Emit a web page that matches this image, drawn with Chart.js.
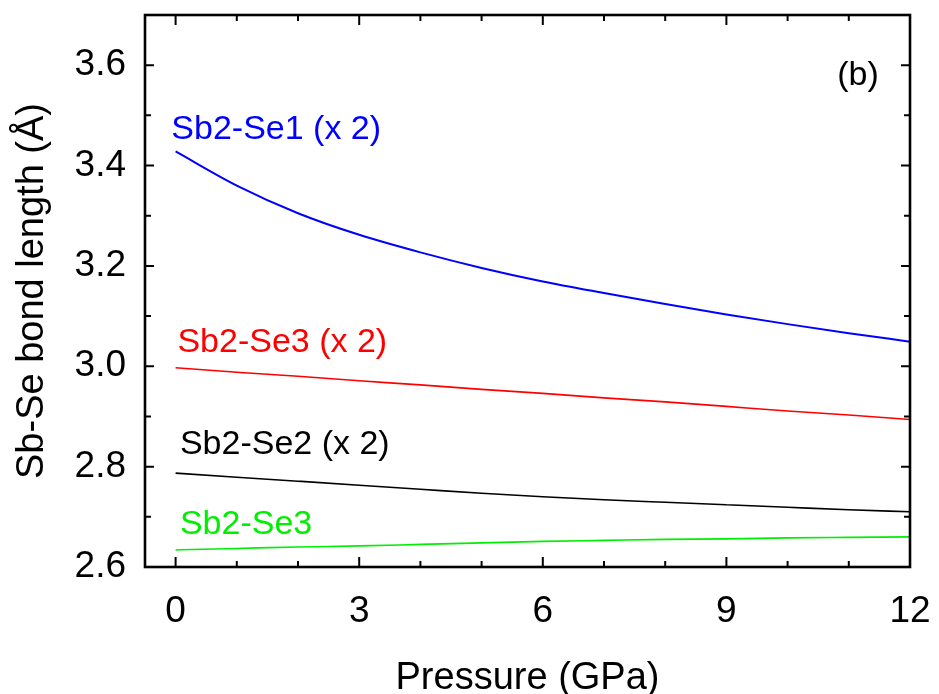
<!DOCTYPE html>
<html>
<head>
<meta charset="utf-8">
<script src="https://cdn.jsdelivr.net/npm/chart.js@4.4.0/dist/chart.umd.min.js"></script>
<style>
  html, body { margin: 0; padding: 0; background: #fff; }
  #wrap { width: 939px; height: 694px; }
</style>
</head>
<body>
<div id="wrap"><canvas id="bondChart" width="939" height="694"></canvas></div>
<script>
// pressure in GPa, bond lengths in Angstrom
const pressure = [0, 1, 2, 3, 4, 5, 6, 7, 8, 9, 10, 11, 12];
const sb2se1 = [3.428, 3.360, 3.305, 3.262, 3.227, 3.196, 3.169, 3.146, 3.124, 3.103, 3.084, 3.066, 3.049];
const sb2se3x2 = [2.997, 2.988, 2.980, 2.971, 2.963, 2.954, 2.946, 2.937, 2.929, 2.920, 2.911, 2.903, 2.894];
const sb2se2 = [2.787, 2.779, 2.771, 2.763, 2.755, 2.747, 2.740, 2.734, 2.729, 2.724, 2.719, 2.714, 2.710];
const sb2se3 = [2.634, 2.637, 2.640, 2.642, 2.645, 2.648, 2.651, 2.653, 2.655, 2.656, 2.658, 2.659, 2.660];

const xTicks = [0, 3, 6, 9, 12];
const yTicks = [2.6, 2.8, 3.0, 3.2, 3.4, 3.6];

const FONT = "'Liberation Sans', Arial, Helvetica, sans-serif";
const BLUE = '#0000ff', RED = '#ff0000', BLACK = '#000000', GREEN = '#00ee00';

// text placed next to each curve, anchored in data coordinates
const curveLabels = [
  { text: 'Sb2-Se1 (x 2)', x: -0.07, y: 3.453, color: BLUE, align: 'left' },
  { text: 'Sb2-Se3 (x 2)', x: 0.03, y: 3.028, color: RED, align: 'left' },
  { text: 'Sb2-Se2 (x 2)', x: 0.07, y: 2.826, color: BLACK, align: 'left' },
  { text: 'Sb2-Se3', x: 0.07, y: 2.665, color: GREEN, align: 'left' },
  { text: '(b)', x: 11.49, y: 3.56, color: BLACK, align: 'right' }
];

const toPoints = ys => pressure.map((p, i) => ({ x: p, y: ys[i] }));

// boxed frame with inward ticks on all four sides
const framePlugin = {
  id: 'frame',
  afterDatasetsDraw(chart) {
    const { ctx, chartArea: a, scales: { x, y } } = chart;
    ctx.save();
    ctx.strokeStyle = '#000';
    ctx.lineWidth = 2;
    ctx.beginPath();
    for (let v = 0; v <= 12; v++) {
      const px = x.getPixelForValue(v);
      const len = v % 3 === 0 ? 10 : 6;
      ctx.moveTo(px, a.bottom); ctx.lineTo(px, a.bottom - len);
      ctx.moveTo(px, a.top); ctx.lineTo(px, a.top + len);
    }
    for (let k = 26; k <= 37; k++) {
      const py = y.getPixelForValue(k / 10);
      const len = k % 2 === 0 ? 9 : 6;
      ctx.moveTo(a.left, py); ctx.lineTo(a.left + len, py);
      ctx.moveTo(a.right, py); ctx.lineTo(a.right - len, py);
    }
    ctx.stroke();
    ctx.lineWidth = 2.6;
    ctx.strokeRect(a.left, a.top, a.right - a.left, a.bottom - a.top);

    ctx.font = '34px ' + FONT;
    ctx.textBaseline = 'alphabetic';
    curveLabels.forEach(l => {
      ctx.fillStyle = l.color;
      ctx.textAlign = l.align;
      ctx.fillText(l.text, x.getPixelForValue(l.x), y.getPixelForValue(l.y));
    });
    ctx.restore();
  }
};

const line = (label, ys, color, width) => ({
  label,
  data: toPoints(ys),
  borderColor: color,
  backgroundColor: color,
  borderWidth: width,
  pointRadius: 0,
  cubicInterpolationMode: 'monotone',
  fill: false
});

new Chart(document.getElementById('bondChart').getContext('2d'), {
  type: 'line',
  data: {
    datasets: [
      line('Sb2-Se1 (x 2)', sb2se1, BLUE, 2),
      line('Sb2-Se3 (x 2)', sb2se3x2, RED, 1.6),
      line('Sb2-Se2 (x 2)', sb2se2, BLACK, 1.6),
      line('Sb2-Se3', sb2se3, GREEN, 1.6)
    ]
  },
  options: {
    responsive: false,
    animation: false,
    layout: { padding: { top: 15, right: 29, left: 0, bottom: 0 } },
    plugins: { legend: { display: false }, tooltip: { enabled: false } },
    scales: {
      x: {
        type: 'linear',
        min: -0.5,
        max: 12,
        grid: { display: false, drawTicks: false },
        border: { display: false },
        afterBuildTicks: s => { s.ticks = xTicks.map(v => ({ value: v })); },
        afterFit: s => { s.height = 127; s.paddingLeft = 0; s.paddingRight = 0; },
        ticks: {
          color: '#000',
          padding: 23,
          maxRotation: 0,
          font: { family: FONT, size: 37 },
          callback: v => String(v)
        },
        title: {
          display: true,
          text: 'Pressure (GPa)',
          color: '#000',
          font: { family: FONT, size: 38, lineHeight: 0.6 },
          padding: { top: 0, bottom: 4 }
        }
      },
      y: {
        min: 2.6,
        max: 3.7,
        grid: { display: false, drawTicks: false },
        border: { display: false },
        afterBuildTicks: s => { s.ticks = yTicks.map(v => ({ value: v })); },
        afterFit: s => { s.width = 145; s.paddingTop = 0; s.paddingBottom = 0; },
        ticks: {
          color: '#000',
          padding: 19,
          font: { family: FONT, size: 37 },
          callback: v => Number(v).toFixed(1)
        },
        title: {
          display: true,
          text: 'Sb-Se bond length (Å)',
          color: '#000',
          font: { family: FONT, size: 38 },
          padding: { top: 10, bottom: 0 }
        }
      }
    }
  },
  plugins: [framePlugin]
});
</script>
</body>
</html>
